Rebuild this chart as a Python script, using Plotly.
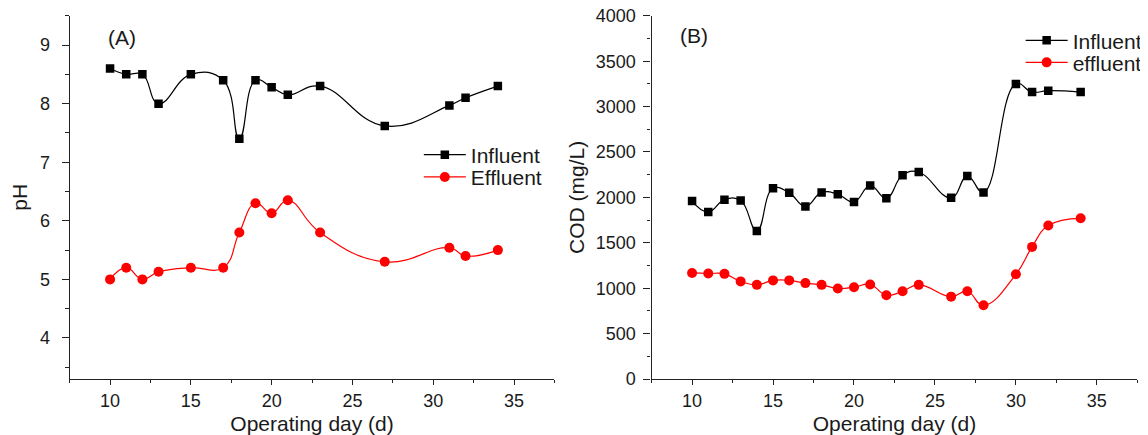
import plotly.graph_objects as go

# ---- data ----
ph_days = [10, 11, 12, 13, 15, 17, 18, 19, 20, 21, 23, 27, 31, 32, 34]
ph_influent = [8.6, 8.5, 8.5, 8.0, 8.5, 8.4, 7.4, 8.4, 8.28, 8.15, 8.3, 7.62, 7.97, 8.1, 8.3]
ph_effluent = [5.0, 5.2, 5.0, 5.13, 5.2, 5.2, 5.8, 6.3, 6.13, 6.35, 5.8, 5.3, 5.54, 5.4, 5.5]

cod_days = [10, 11, 12, 13, 14, 15, 16, 17, 18, 19, 20, 21, 22, 23, 24, 26, 27, 28, 30, 31, 32, 34]
cod_influent = [1960, 1840, 1975, 1965, 1630, 2100, 2050, 1900, 2055, 2035, 1950, 2130, 1990,
                2245, 2280, 1995, 2235, 2055, 3250, 3160, 3175, 3160]
cod_effluent = [1168, 1162, 1158, 1075, 1037, 1086, 1086, 1056, 1037, 996, 1011, 1041, 922,
                966, 1037, 907, 966, 812, 1153, 1455, 1690, 1770]

FONT = "Liberation Sans, Arial, sans-serif"
TXT = "#1a1a1a"
OFF = 8  # page body margin
W, H = 1148 - OFF, 435 - OFF


def px(x):
    return (x - OFF) / W


def py(y):
    return 1 - (y - OFF) / H


fig = go.Figure()

line_kw = dict(shape="spline", smoothing=1.3, width=1.2)

fig.add_trace(go.Scatter(x=ph_days, y=ph_influent, name="Influent", mode="lines+markers",
                         line=dict(color="black", **line_kw),
                         marker=dict(symbol="square", size=8.5, color="black"),
                         xaxis="x", yaxis="y", legend="legend"))
fig.add_trace(go.Scatter(x=ph_days, y=ph_effluent, name="Effluent", mode="lines+markers",
                         line=dict(color="#ff0000", **line_kw),
                         marker=dict(symbol="circle", size=10, color="#ff0000"),
                         xaxis="x", yaxis="y", legend="legend2"))
fig.add_trace(go.Scatter(x=cod_days, y=cod_influent, name="Influent", mode="lines+markers",
                         line=dict(color="black", **line_kw),
                         marker=dict(symbol="square", size=8.5, color="black"),
                         xaxis="x2", yaxis="y2", legend="legend3"))
fig.add_trace(go.Scatter(x=cod_days, y=cod_effluent, name="effluent", mode="lines+markers",
                         line=dict(color="#ff0000", **line_kw),
                         marker=dict(symbol="circle", size=10, color="#ff0000"),
                         xaxis="x2", yaxis="y2", legend="legend4"))

ax_common = dict(showline=True, linecolor="#222", linewidth=1.3, showgrid=False, zeroline=False,
                 ticks="outside", tickwidth=1.2, tickcolor="#222", ticklabeloverflow="allow",
                 tickfont=dict(family=FONT, size=18, color=TXT), automargin=False)

xdom1 = [px(70), px(557.3)]
xdom2 = [px(655), px(1143.3)]
ydom = [py(379), py(15.7)]

xa = dict(ax_common, range=[7.5, 37.5], dtick=5, tick0=0, ticklen=5,
          minor=dict(ticks="outside", ticklen=3, dtick=2.5, tick0=0, tickcolor="#222", tickwidth=1.2),
          title=dict(text="Operating day (d)", font=dict(family=FONT, size=21, color=TXT), standoff=8))

fig.update_layout(
    width=W, height=H,
    margin=dict(l=0, r=0, t=0, b=0),
    paper_bgcolor="white", plot_bgcolor="white",
    xaxis=dict(xa, domain=xdom1, anchor="y"),
    xaxis2=dict(xa, domain=xdom2, anchor="y2"),
    yaxis=dict(ax_common, domain=ydom, range=[3.3, 9.501], dtick=1, tick0=0, anchor="x",
               ticklen=7, ticklabelstandoff=8,
               minor=dict(ticks="outside", ticklen=3.5, dtick=0.5, tick0=0, tickcolor="#222", tickwidth=1.2),
               title=dict(text="pH", font=dict(family=FONT, size=21, color=TXT), standoff=14)),
    yaxis2=dict(ax_common, domain=ydom, range=[0, 4001], dtick=500, tick0=0, anchor="x2",
                ticklen=7, ticklabelstandoff=4,
                minor=dict(ticks="outside", ticklen=3.5, dtick=250, tick0=0, tickcolor="#222", tickwidth=1.2),
                title=dict(text="COD (mg/L)", font=dict(family=FONT, size=21, color=TXT), standoff=5)),
    showlegend=True,
)

leg_common = dict(bgcolor="rgba(0,0,0,0)", borderwidth=0, xanchor="left", yanchor="middle",
                  font=dict(family=FONT, size=21, color=TXT), itemwidth=42, tracegroupgap=0)
fig.update_layout(
    legend=dict(leg_common, x=px(421), y=py(155)),
    legend2=dict(leg_common, x=px(421), y=py(177.3)),
    legend3=dict(leg_common, x=px(1026), y=py(40.7)),
    legend4=dict(leg_common, x=px(1026), y=py(62.7)),
)

fig.add_annotation(text="(A)", xref="paper", yref="paper", x=px(122.5), y=py(38),
                   showarrow=False, xanchor="center", yanchor="middle",
                   font=dict(family=FONT, size=21, color=TXT))
fig.add_annotation(text="(B)", xref="paper", yref="paper", x=px(698), y=py(35.7),
                   showarrow=False, xanchor="center", yanchor="middle",
                   font=dict(family=FONT, size=21, color=TXT))

fig.write_html("out.html")
